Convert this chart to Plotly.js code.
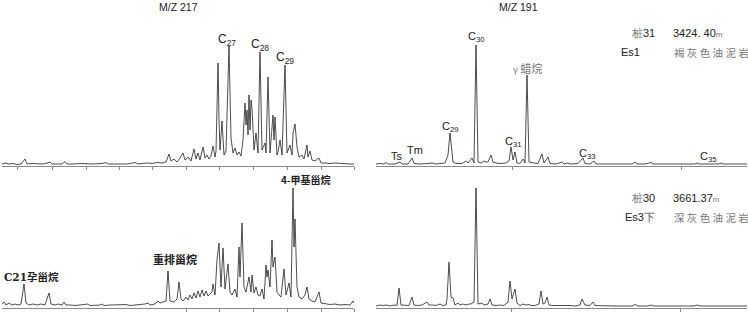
<!DOCTYPE html>
<html><head><meta charset="utf-8">
<script src="https://cdn.plot.ly/plotly-3.0.1.min.js"></script>
<style>html,body{margin:0;padding:0;background:#fff}#c{width:748px;height:313px}</style>
</head><body><div id="c"></div>
<script>
// ---- Data (retention position, relative intensity) ----
// Top-left: m/z 217, Zhuang31 3424.40 m
const tlTime = [2,6,9,13,17,21,25,27,32,37,42,46,50,52,57,62,65,67,72,82,92,102,106,108,112,122,127,135,138,142,147,152,157,162,166,169,171,174,177,180,183,185,188,191,194,196,198,200,203,205,207,209,211,213,215,216,218,219,220,222,224,226,229,231,233,235,237,239,241,243,245,246,247,248,249,250,251,252,254,256,258,260,262,265,266,268,270,273,274,275,277,278,280,282,285,287,290,292,293,295,297,299,302,304,307,308,310,312,315,319,321,325,330,335,340,345,350,354];
const tlInt  = [1,2,1,1.5,0.5,1,6,1,1.5,1,1,1.5,3,1,1,1,3.5,1,1,1.5,1,1.5,2.5,1,1,1.5,1,2.5,1,1.5,2,1.5,2.5,2,3,11,4,6,3,7,12,5,8,4,16,6,12,5,18,7,10,6,9,19,8,14,102,46,15,44,10,14,119,27,12,17,10,13,9,25,62,40,55,30,70,35,65,57,15,32,12,113,15,22,12,88,12,50,25,48,10,13,25,10,100,12,20,10,32,41,18,8,10,6,20,8,14,5,4,7,2,2,1.5,2,1.5,1.5,1,1];

// Top-right: m/z 191, Zhuang31
const trTime = [376,380,384,386,388,395,400,402,408,412,414,420,428,432,436,440,445,448,450,453,456,462,466,468,470,472,474,476,478,481,484,486,488,491,493,496,500,506,509,511,513,515,517,520,523,525,527,529,534,538,542,544,548,550,556,562,564,568,570,578,583,585,590,594,596,605,615,625,632,635,637,645,651,653,665,675,685,695,697,699,710,719,721,723,735,747];
const trInt  = [1,1.5,1,2.5,1,1,3,1,1,7,1.5,1,1.5,2,1,1.5,2,10,32,3,1.5,1.5,4,2,5,7,2,120,3,2,4,3,3,10,3,2,1.5,2,4,18,5,13,2,1.5,6,2,90,3,2,1.5,11,2,8,1.5,1,3,1,2,1,1.5,7,1.5,1,4,1,1,1,1,1,3,1,1,2.5,1,1,1,1,1,2,1,1,1,2,1,1,1];

// Bottom-left: m/z 217, Zhuang30 3661.37 m
const blTime = [2,4,6,9,12,15,18,21,24,26,29,33,37,41,45,49,51,55,58,62,64,66,70,75,80,88,90,100,102,104,110,120,126,130,140,145,148,150,155,158,160,163,166,168,170,174,177,179,181,183,186,188,190,192,194,196,198,200,202,204,206,208,210,212,213,215,217,219,221,223,225,228,230,232,235,237,239,240,242,244,246,248,249,251,252,254,256,258,260,262,264,266,267,268,270,272,273,275,277,279,281,284,286,289,291,293,294,295,297,299,302,305,307,309,312,315,319,321,325,330,335,340,345,350,353,354];
const blInt  = [3,5,2,4,2,3,2,3,23,4,2,3,2,3,2,14,3,2,3,2,5,2,2,1.5,2,3,1.5,2,3,1.5,2,2,2.5,1.5,2,3,4,2,3,6,4,5,6,36,6,5,8,25,8,6,10,7,12,8,14,9,16,10,17,11,16,11,13,15,23,12,47,64,20,59,18,43,15,12,18,10,60,30,84,20,15,25,30,15,32,14,20,12,11,18,8,42,30,37,20,67,40,50,15,12,10,38,12,24,10,119,60,88,20,10,8,12,20,8,6,5,15,4,3,2.5,3,2,2.5,2,6,4];

// Bottom-right: m/z 191, Zhuang30
const brTime = [376,380,383,387,390,394,397,399,401,405,409,412,414,418,422,427,429,433,436,440,443,446,447,449,451,453,455,458,460,463,466,469,471,474,476,478,482,484,488,490,492,496,500,504,508,510,512,515,517,520,523,526,529,531,535,539,541,543,545,547,549,553,560,566,570,575,580,582,585,590,593,595,605,615,625,632,635,638,648,651,654,670,685,694,697,700,715,721,724,735,747];
const brInt  = [1,2,1.5,2,1,2,1.5,19,2,2,1.5,10,2,1.5,2,5,2,2,1.5,3,1.5,2,8,45,10,9,2,4,2,3,2,3,3,5,119,3,4,2,3,8,2,1.5,2,1.5,5,26,8,18,4,1.5,3,2,2.5,1.5,1.5,3,16,3,4,10,2,1.5,1.5,2,1.5,1,2,8,2,1.5,5,1.5,1,1,1,1,2.5,1,1,2,1,1,1,1,2,1,1,1.5,1,1,1];

// ---- Labels ----
const titleLeft = "M/Z 217", titleRight = "M/Z 191";

const W = 748, H = 313;
const px = v => v / W, py = v => (H - v) / H;
const lineStyle = {color: '#222', width: 0.8};
const traces = [
  {x: tlTime, y: tlInt, xaxis: 'x', yaxis: 'y', mode: 'lines', line: lineStyle, hoverinfo: 'skip'},
  {x: trTime, y: trInt, xaxis: 'x2', yaxis: 'y2', mode: 'lines', line: lineStyle, hoverinfo: 'skip'},
  {x: blTime, y: blInt, xaxis: 'x3', yaxis: 'y3', mode: 'lines', line: lineStyle, hoverinfo: 'skip'},
  {x: brTime, y: brInt, xaxis: 'x4', yaxis: 'y4', mode: 'lines', line: lineStyle, hoverinfo: 'skip'}
];
const xCommon = {showline: true, linecolor: '#8a8a8a', linewidth: 1, ticks: 'outside', ticklen: 3, tickcolor: '#8a8a8a',
  showticklabels: false, showgrid: false, zeroline: false, fixedrange: true};
const yCommon = {visible: false, showgrid: false, zeroline: false, range: [-1, 145], fixedrange: true};
const topDom = [py(166), py(20)], botDom = [py(308), py(162)];
const leftDom = [px(2), px(354)], rightDom = [px(376), px(747)];

const latin = 'Liberation Sans, Arial, sans-serif';
const cjk = 'Noto Sans CJK SC, sans-serif';
function ann(text, x, y, opt) {
  return Object.assign({text, x: px(x), y: py(y), xref: 'paper', yref: 'paper', showarrow: false,
    xanchor: 'center', yanchor: 'middle', font: {family: latin, size: 11, color: '#222'}}, opt || {});
}
const annotations = [
  ann(titleLeft, 178, 7, {font: {family: latin, size: 10.5, color: '#222'}}),
  ann(titleRight, 518, 7, {font: {family: latin, size: 10.5, color: '#222'}}),
  ann('C<sub>27</sub>', 227, 40, {font: {family: latin, size: 12, color: '#222'}}),
  ann('C<sub>28</sub>', 260, 45, {font: {family: latin, size: 12, color: '#222'}}),
  ann('C<sub>29</sub>', 285, 58, {font: {family: latin, size: 12, color: '#222'}}),
  ann('Ts', 397, 156, {font: {family: latin, size: 11, color: '#222'}}),
  ann('Tm', 415, 150, {font: {family: latin, size: 11, color: '#222'}}),
  ann('C<sub>29</sub>', 450, 127, {font: {family: latin, size: 11, color: '#222'}}),
  ann('C<sub>30</sub>', 476, 37, {font: {family: latin, size: 11, color: '#222'}}),
  ann('C<sub>31</sub>', 513, 142, {font: {family: latin, size: 11, color: '#222'}}),
  ann('<span style="font-size:9px">γ</span> 蜡烷', 527, 68, {font: {family: cjk, size: 11, color: '#777'}}),
  ann('C<sub>33</sub>', 587, 154, {font: {family: latin, size: 11, color: '#222'}}),
  ann('C<sub>35</sub>', 708, 157, {font: {family: latin, size: 11, color: '#222'}}),
  ann('<span style="color:#777">桩</span>31', 657, 33, {xanchor: 'right', font: {family: latin, size: 11, color: '#222'}}),
  ann('3424. 40<span style="font-size:8px;color:#777">m</span>', 671, 33, {xanchor: 'left', font: {family: latin, size: 11, color: '#222'}}),
  ann('Es1', 642, 52, {xanchor: 'right', font: {family: latin, size: 11, color: '#222'}}),
  ann('褐 灰 色 油 泥 岩', 672, 52, {xanchor: 'left', font: {family: cjk, size: 10.5, color: '#777'}}),
  ann('<span style="color:#777">桩</span>30', 657, 198, {xanchor: 'right', font: {family: latin, size: 11, color: '#222'}}),
  ann('3661.37<span style="font-size:8px;color:#777">m</span>', 671, 198, {xanchor: 'left', font: {family: latin, size: 11, color: '#222'}}),
  ann('Es3<span style="color:#555">下</span>', 657, 217, {xanchor: 'right', font: {family: latin, size: 11, color: '#222'}}),
  ann('深 灰 色 油 泥 岩', 672, 217, {xanchor: 'left', font: {family: cjk, size: 10.5, color: '#777'}}),
  ann('<b>C21孕甾烷</b>', 2, 277, {xanchor: 'left', font: {family: 'DejaVu Serif, Noto Sans CJK SC, serif', size: 10.5, color: '#222'}}),
  ann('<b>重排甾烷</b>', 175, 259, {font: {family: cjk, size: 11, color: '#222'}}),
  ann('<b>4-甲基甾烷</b>', 306, 179, {font: {family: cjk, size: 10, color: '#222'}})
];
const layout = {
  width: W, height: H, margin: {l: 0, r: 0, t: 0, b: 0}, showlegend: false,
  paper_bgcolor: '#fff', plot_bgcolor: 'rgba(0,0,0,0)',
  xaxis: Object.assign({}, xCommon, {domain: leftDom, range: [2, 354], anchor: 'y', tickmode: 'array', tickvals: [17,52,86,119,152,186,219,253,287,321,354]}),
  yaxis: Object.assign({}, yCommon, {domain: topDom, anchor: 'x'}),
  xaxis2: Object.assign({}, xCommon, {domain: rightDom, range: [376, 747], anchor: 'y2', tickmode: 'array', tickvals: [512, 681]}),
  yaxis2: Object.assign({}, yCommon, {domain: topDom, anchor: 'x2'}),
  xaxis3: Object.assign({}, xCommon, {domain: leftDom, range: [2, 354], anchor: 'y3', tickmode: 'array', tickvals: [186,219,253,287,321,354]}),
  yaxis3: Object.assign({}, yCommon, {domain: botDom, anchor: 'x3'}),
  xaxis4: Object.assign({}, xCommon, {domain: rightDom, range: [376, 747], anchor: 'y4', tickmode: 'array', tickvals: [511, 680]}),
  yaxis4: Object.assign({}, yCommon, {domain: botDom, anchor: 'x4'}),
  annotations
};
Plotly.newPlot('c', traces, layout, {staticPlot: true, displayModeBar: false});
</script></body></html>
